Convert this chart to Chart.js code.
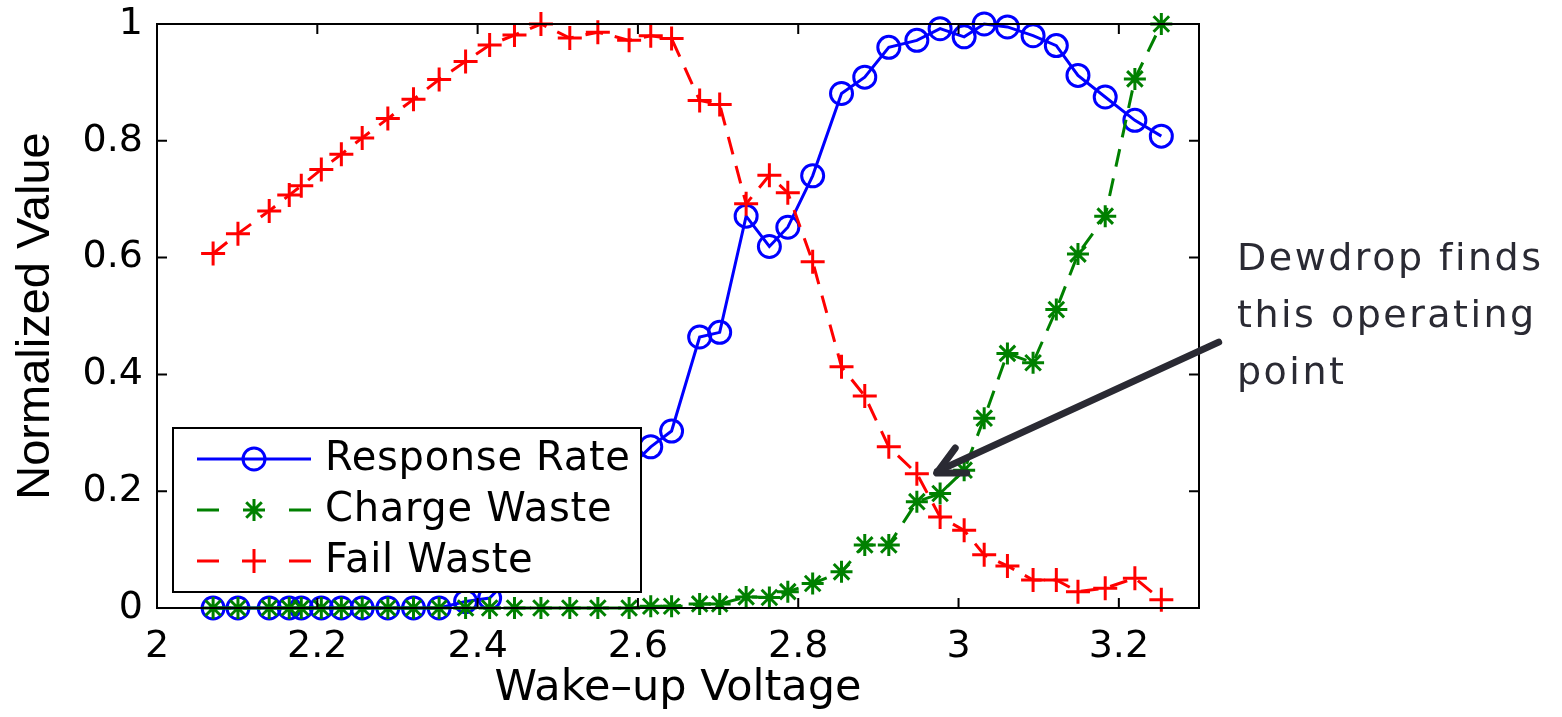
<!DOCTYPE html>
<html>
<head>
<meta charset="utf-8">
<title>Wake-up Voltage</title>
<script src="https://cdn.jsdelivr.net/npm/chart.js@4/dist/chart.umd.min.js"></script>
<style>
  html, body { margin: 0; padding: 0; background: #fff; }
  #chart { display: block; }
</style>
</head>
<body>
<canvas id="chart" width="1562" height="717"></canvas>
<script>
// --- Data ---
const voltage = [
  2.070, 2.101, 2.140, 2.165, 2.180, 2.205, 2.230, 2.256, 2.288, 2.320,
  2.352, 2.385, 2.415, 2.446, 2.479, 2.515, 2.550, 2.589, 2.616, 2.642,
  2.677, 2.702, 2.735, 2.764, 2.787, 2.818, 2.854, 2.883, 2.913, 2.948,
  2.977, 3.007, 3.032, 3.061, 3.093, 3.122, 3.149, 3.183, 3.220, 3.253
];
const responseRate = [
  0, 0, 0, 0, 0, 0, 0, 0, 0, 0,
  0, 0.011, 0.017, 0.06, 0.10, 0.14, 0.19, 0.24, 0.276, 0.303,
  0.464, 0.472, 0.671, 0.619, 0.652, 0.740, 0.881, 0.909, 0.960, 0.972,
  0.992, 0.978, 1.0, 0.995, 0.980, 0.963, 0.912, 0.875, 0.835, 0.808
];
const chargeWaste = [
  0, 0, 0, 0, 0, 0, 0, 0, 0, 0,
  0, 0, 0, 0, 0, 0, 0, 0, 0.003, 0.003,
  0.007, 0.007, 0.019, 0.018, 0.028, 0.042, 0.062, 0.108, 0.108, 0.182,
  0.196, 0.236, 0.325, 0.436, 0.420, 0.511, 0.606, 0.671, 0.906, 1.0
];
const failWaste = [
  0.607, 0.641, 0.680, 0.707, 0.723, 0.751, 0.777, 0.805, 0.838, 0.871,
  0.905, 0.936, 0.964, 0.981, 1.0, 0.976, 0.986, 0.972, 0.980, 0.975,
  0.869, 0.862, 0.692, 0.741, 0.711, 0.593, 0.413, 0.363, 0.276, 0.230,
  0.156, 0.133, 0.091, 0.072, 0.048, 0.048, 0.028, 0.034, 0.051, 0.014
];
const seriesNames = ['Response Rate', 'Charge Waste', 'Fail Waste'];
const xTicks = [2, 2.2, 2.4, 2.6, 2.8, 3, 3.2];
const yTicks = [0, 0.2, 0.4, 0.6, 0.8, 1];
const noteLines = ['Dewdrop finds', 'this operating', 'point'];
const notePoint = { x: 2.969, y: 0.231 };

const BLUE = '#0000ff', GREEN = '#008000', RED = '#ff0000', INK = '#2a2a33';
const DASH = [18, 12];

function toXY(ys) {
  return voltage.map((x, i) => ({ x, y: ys[i] }));
}

// small marker drawer for the hand-made legend
function marker(ctx, style, x, y, r) {
  ctx.beginPath();
  if (style === 'circle') {
    ctx.arc(x, y, r, 0, Math.PI * 2);
  } else {
    ctx.moveTo(x - r, y); ctx.lineTo(x + r, y);
    ctx.moveTo(x, y - r); ctx.lineTo(x, y + r);
    if (style === 'star') {
      const d = r * Math.SQRT1_2;
      ctx.moveTo(x - d, y - d); ctx.lineTo(x + d, y + d);
      ctx.moveTo(x - d, y + d); ctx.lineTo(x + d, y - d);
    }
  }
  ctx.stroke();
}

const framePlugin = {
  id: 'frame',
  afterDraw(chart) {
    const ctx = chart.ctx;
    const a = chart.chartArea;
    const xs = chart.scales.x, ys = chart.scales.y;
    ctx.save();

    // axes box with inward ticks (matlab style)
    ctx.strokeStyle = '#000';
    ctx.lineWidth = 2;
    ctx.strokeRect(a.left, a.top, a.right - a.left, a.bottom - a.top);
    ctx.beginPath();
    xTicks.forEach(v => {
      const px = xs.getPixelForValue(v);
      ctx.moveTo(px, a.bottom); ctx.lineTo(px, a.bottom - 10);
      ctx.moveTo(px, a.top); ctx.lineTo(px, a.top + 10);
    });
    yTicks.forEach(v => {
      const py = ys.getPixelForValue(v);
      ctx.moveTo(a.left, py); ctx.lineTo(a.left + 10, py);
      ctx.moveTo(a.right, py); ctx.lineTo(a.right - 10, py);
    });
    ctx.stroke();

    // legend box
    const lx = 173, ly = 428, lw = 468, lh = 164;
    ctx.fillStyle = '#fff';
    ctx.fillRect(lx, ly, lw, lh);
    ctx.strokeRect(lx, ly, lw, lh);
    const rows = [459, 510, 561];
    const styles = [
      { color: BLUE, point: 'circle', dashed: false, r: 11 },
      { color: GREEN, point: 'star', dashed: true, r: 11 },
      { color: RED, point: 'cross', dashed: true, r: 12 }
    ];
    ctx.lineWidth = 3;
    rows.forEach((ry, i) => {
      const s = styles[i];
      ctx.strokeStyle = s.color;
      ctx.beginPath();
      if (s.dashed) {
        ctx.moveTo(197, ry); ctx.lineTo(219, ry);
        ctx.moveTo(289, ry); ctx.lineTo(311, ry);
      } else {
        ctx.moveTo(197, ry); ctx.lineTo(311, ry);
      }
      ctx.stroke();
      marker(ctx, s.point, 254, ry, s.r);
      ctx.fillStyle = '#000';
      ctx.font = '40px "DejaVu Sans"';
      ctx.letterSpacing = '0.7px';
      ctx.textAlign = 'left';
      ctx.textBaseline = 'middle';
      ctx.fillText(seriesNames[i], 325, ry + 1);
    });

    // annotation arrow
    const tx = xs.getPixelForValue(notePoint.x);
    const ty = ys.getPixelForValue(notePoint.y);
    const ex = tx + 285, ey = ty - 131;
    const ang = Math.atan2(ey - ty, ex - tx);
    ctx.strokeStyle = INK;
    ctx.lineWidth = 7;
    ctx.lineCap = 'round';
    ctx.lineJoin = 'round';
    ctx.beginPath();
    ctx.moveTo(tx + 4 * Math.cos(ang), ty + 4 * Math.sin(ang));
    ctx.lineTo(ex, ey);
    ctx.stroke();
    ctx.beginPath();
    ctx.moveTo(tx + 33 * Math.cos(ang - 0.43), ty + 33 * Math.sin(ang - 0.43));
    ctx.lineTo(tx + 3, ty);
    ctx.lineTo(tx + 33 * Math.cos(ang + 0.43), ty + 33 * Math.sin(ang + 0.43));
    ctx.stroke();

    // annotation text
    ctx.fillStyle = INK;
    ctx.font = '38px "DejaVu Sans"';
    ctx.letterSpacing = '2.5px';
    ctx.textAlign = 'left';
    ctx.textBaseline = 'alphabetic';
    noteLines.forEach((t, i) => ctx.fillText(t, 1237, 270 + i * 57));

    ctx.restore();
  }
};

const tickFont = { family: 'DejaVu Sans', size: 38 };

new Chart(document.getElementById('chart'), {
  type: 'line',
  data: {
    datasets: [
      {
        label: seriesNames[0], data: toXY(responseRate), order: 3,
        borderColor: BLUE, borderWidth: 3, pointStyle: 'circle', pointRadius: 11,
        pointBorderWidth: 3, pointBorderColor: BLUE, pointBackgroundColor: 'rgba(0,0,0,0)',
        clip: false
      },
      {
        label: seriesNames[1], data: toXY(chargeWaste), order: 2,
        borderColor: GREEN, borderWidth: 3, borderDash: DASH, pointStyle: 'star', pointRadius: 11,
        pointBorderWidth: 3, pointBorderColor: GREEN, pointBackgroundColor: GREEN,
        clip: false
      },
      {
        label: seriesNames[2], data: toXY(failWaste), order: 1,
        borderColor: RED, borderWidth: 3, borderDash: DASH, pointStyle: 'cross', pointRadius: 12,
        pointBorderWidth: 3, pointBorderColor: RED, pointBackgroundColor: RED,
        clip: false
      }
    ]
  },
  options: {
    responsive: false,
    animation: false,
    devicePixelRatio: 1,
    layout: { padding: { left: 0, top: 24, right: 363, bottom: 0 } },
    plugins: { legend: { display: false }, tooltip: { enabled: false } },
    elements: { line: { tension: 0, fill: false } },
    scales: {
      x: {
        type: 'linear', min: 2, max: 3.3,
        afterBuildTicks: s => { s.ticks = xTicks.map(v => ({ value: v })); },
        afterFit: s => { s.height = 109; s.paddingLeft = 0; s.paddingRight = 0; },
        grid: { display: false }, border: { display: false },
        ticks: { font: tickFont, color: '#000', padding: 8, maxRotation: 0, autoSkip: false, callback: v => String(v) },
        title: { display: true, text: 'Wake–up Voltage', color: '#000', font: { family: 'DejaVu Sans', size: 43 }, padding: { top: 0, bottom: 2 } }
      },
      y: {
        type: 'linear', min: 0, max: 1,
        afterBuildTicks: s => { s.ticks = yTicks.map(v => ({ value: v })); },
        afterFit: s => { s.width = 157; s.paddingTop = 0; s.paddingBottom = 0; },
        grid: { display: false }, border: { display: false },
        ticks: { font: tickFont, color: '#000', padding: 6, autoSkip: false, callback: v => String(v) },
        title: { display: true, text: 'Normalized Value', color: '#000', font: { family: 'Liberation Sans', size: 47 }, padding: { top: 8, bottom: 0 } }
      }
    }
  },
  plugins: [framePlugin]
});
</script>
</body>
</html>
